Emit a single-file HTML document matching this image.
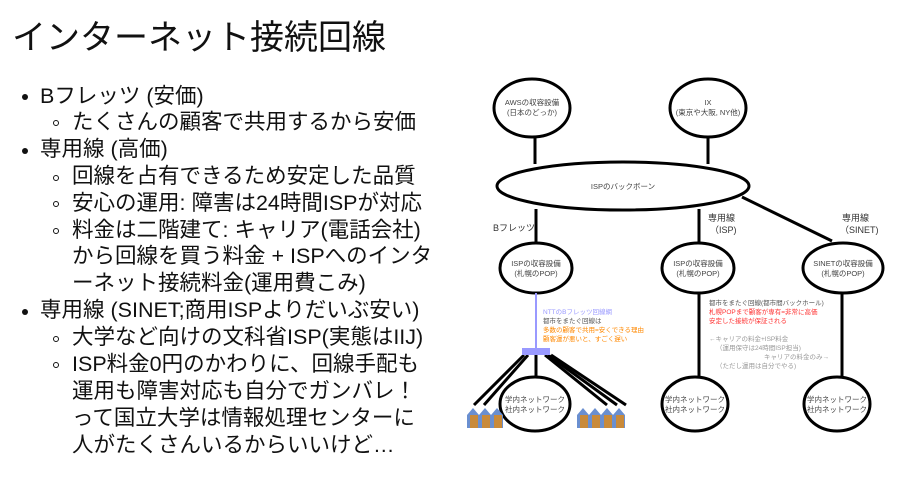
<!DOCTYPE html>
<html><head><meta charset="utf-8"><style>
body{margin:0;width:908px;height:479px;background:#fff;overflow:hidden;position:relative;font-family:"Liberation Sans","Noto Sans CJK JP",sans-serif;color:#111}
.t{position:absolute;left:12px;top:10px;font-size:34px;white-space:nowrap}
.l{position:absolute;font-size:21.5px;white-space:nowrap;line-height:27px}
.b{position:absolute;width:6px;height:6px;border-radius:50%;background:#111}
.c{position:absolute;width:6px;height:6px;border-radius:50%;border:1.3px solid #111;box-sizing:border-box}
svg{position:absolute;left:0;top:0}
</style></head><body>
<div class="t">インターネット接続回線</div>
<div class="b" style="left:22px;top:94px"></div><div class="l" style="left:40px;top:83px">Bフレッツ (安価)</div>
<div class="c" style="left:53px;top:120px"></div><div class="l" style="left:72px;top:109px">たくさんの顧客で共用するから安価</div>
<div class="b" style="left:22px;top:148px"></div><div class="l" style="left:40px;top:136px">専用線 (高価)</div>
<div class="c" style="left:53px;top:175px"></div><div class="l" style="left:72px;top:163px">回線を占有できるため安定した品質</div>
<div class="c" style="left:53px;top:201px"></div><div class="l" style="left:72px;top:190px">安心の運用: 障害は24時間ISPが対応</div>
<div class="c" style="left:53px;top:228px"></div><div class="l" style="left:72px;top:217px">料金は二階建て: キャリア(電話会社)</div>
<div class="l" style="left:72px;top:243px">から回線を買う料金 + ISPへのインタ</div>
<div class="l" style="left:72px;top:270px">ーネット接続料金(運用費こみ)</div>
<div class="b" style="left:22px;top:309px"></div><div class="l" style="left:40px;top:297px">専用線 (SINET;商用ISPよりだいぶ安い)</div>
<div class="c" style="left:53px;top:336px"></div><div class="l" style="left:72px;top:324px">大学など向けの文科省ISP(実態はIIJ)</div>
<div class="c" style="left:53px;top:362px"></div><div class="l" style="left:72px;top:351px">ISP料金0円のかわりに、回線手配も</div>
<div class="l" style="left:72px;top:378px">運用も障害対応も自分でガンバレ！</div>
<div class="l" style="left:72px;top:405px">って国立大学は情報処理センターに</div>
<div class="l" style="left:72px;top:432px">人がたくさんいるからいいけど…</div>
<svg width="908" height="479" font-family="Liberation Sans,Noto Sans CJK JP,sans-serif">
<g stroke="#000" stroke-width="3" fill="none">
<line x1="535" y1="137" x2="535" y2="164"/><line x1="708" y1="137" x2="708" y2="164"/>
<line x1="536" y1="209" x2="536" y2="243"/><line x1="699" y1="209" x2="699" y2="243"/>
<line x1="742" y1="197" x2="832" y2="241"/>
<line x1="699" y1="293" x2="699" y2="377"/><line x1="842" y1="293" x2="842" y2="377"/>
<line x1="536" y1="355" x2="536" y2="377"/>
<line x1="524" y1="355" x2="474" y2="405"/><line x1="528" y1="355" x2="484" y2="405"/>
<line x1="545" y1="355" x2="607" y2="405"/><line x1="548" y1="355" x2="617" y2="405"/><line x1="551" y1="355" x2="626" y2="405"/>
<ellipse cx="532" cy="108" rx="38" ry="29" fill="#fff"/>
<ellipse cx="708" cy="108" rx="38" ry="29" fill="#fff"/>
<ellipse cx="623" cy="186" rx="126" ry="24" fill="#fff"/>
<ellipse cx="536" cy="268" rx="36" ry="25" fill="#fff"/>
<ellipse cx="698" cy="268" rx="36" ry="25" fill="#fff"/>
<ellipse cx="843" cy="268" rx="40" ry="25" fill="#fff"/>
<ellipse cx="535" cy="404" rx="35" ry="27" fill="#fff"/>
<ellipse cx="695" cy="404" rx="33" ry="27" fill="#fff"/>
<ellipse cx="837" cy="404" rx="33" ry="27" fill="#fff"/>
</g>
<line x1="536" y1="293" x2="536" y2="348" stroke="#9999ff" stroke-width="2"/>
<rect x="522" y="348" width="28" height="7" fill="#9999ff"/>
<g fill="#444" font-size="7.5" text-anchor="middle">
<text x="532" y="105">AWSの収容設備</text><text x="532" y="115">(日本のどっか)</text>
<text x="708" y="105">IX</text><text x="708" y="115">(東京や大阪, NY他)</text>
<text x="623" y="189">ISPのバックボーン</text>
<text x="536" y="266">ISPの収容設備</text><text x="536" y="276">(札幌のPOP)</text>
<text x="698" y="266">ISPの収容設備</text><text x="698" y="276">(札幌のPOP)</text>
<text x="843" y="266">SINETの収容設備</text><text x="843" y="276">(札幌のPOP)</text>
<text x="535" y="402">学内ネットワーク</text><text x="535" y="412">社内ネットワーク</text>
<text x="695" y="402">学内ネットワーク</text><text x="695" y="412">社内ネットワーク</text>
<text x="837" y="402">学内ネットワーク</text><text x="837" y="412">社内ネットワーク</text>
</g>
<g fill="#333" font-size="9">
<text x="493" y="231">Bフレッツ</text>
<text x="708" y="221">専用線</text><text x="710" y="233">（ISP)</text>
<text x="842" y="221">専用線</text><text x="840" y="233">（SINET)</text>
</g>
<g font-size="6.5">
<text x="543" y="314" fill="#9999ff">NTTのBフレッツ回線網</text>
<text x="543" y="323" fill="#555">都市をまたぐ回線は</text>
<text x="543" y="332" fill="#f80">多数の顧客で共用=安くできる理由</text>
<text x="543" y="341" fill="#f80">顧客運が悪いと、すごく遅い</text>
<text x="709" y="305" fill="#555">都市をまたぐ回線(都市間バックホール)</text>
<text x="709" y="314" fill="#f33">札幌POPまで顧客が専有=非常に高価</text>
<text x="709" y="323" fill="#f33">安定した接続が保証される</text>
<text x="709" y="341" fill="#999">←キャリアの料金+ISP料金</text>
<text x="716" y="350" fill="#999">（運用保守は24時間ISP担当)</text>
<text x="764" y="359" fill="#999">キャリアの料金のみ→</text>
<text x="716" y="368" fill="#999">（ただし運用は自分でやる)</text>
</g>
<g fill="#6a8fd0">
<path d="M467 415l6-7 6 7 6-7 6 7 6-7 6 7v13h-36z"/>
<path d="M577 415l6-7 6 7 6-7 6 7 6-7 6 7 6-7 6 7v13h-48z"/>
</g>
<g fill="#c98a3a">
<rect x="470" y="415" width="8" height="13"/><rect x="482" y="415" width="8" height="13"/><rect x="494" y="415" width="8" height="13"/>
<rect x="580" y="415" width="8" height="13"/><rect x="592" y="415" width="8" height="13"/><rect x="604" y="415" width="8" height="13"/><rect x="616" y="415" width="8" height="13"/>
</g>
</svg>
</body></html>
